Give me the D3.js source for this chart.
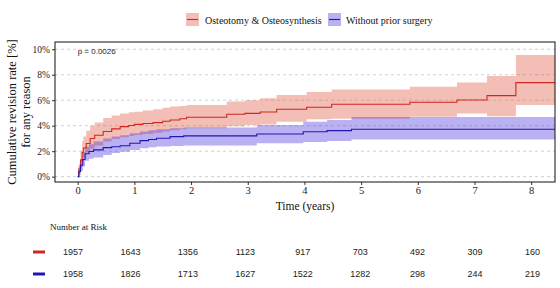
<!DOCTYPE html>
<html><head><meta charset="utf-8">
<script src="https://cdn.jsdelivr.net/npm/d3@7"></script>
<style>body{margin:0;background:#fff}svg{display:block}</style>
</head><body>
<script>
// ---- data ----
const seriesNames = ["Osteotomy & Osteosynthesis", "Without prior surgery"];
const osteoTime  = [0, 0.02, 0.05, 0.08, 0.1, 0.15, 0.22, 0.3, 0.45, 0.6, 0.75, 0.9, 1.0, 1.15, 1.33, 1.5, 1.63, 1.8, 1.92, 2.63, 2.95, 3.22, 3.51, 4.04, 4.48, 5.86, 6.69, 7.22, 7.73];
const osteoEst   = [0, 0.6, 1.3, 1.9, 2.25, 2.6, 3.0, 3.25, 3.55, 3.75, 3.93, 4.02, 4.1, 4.17, 4.24, 4.35, 4.45, 4.55, 4.66, 4.9, 4.97, 5.08, 5.29, 5.45, 5.68, 5.84, 6.02, 6.36, 7.38];
const osteoUpper = [0, 1.0, 2.0, 2.8, 3.15, 3.6, 4.0, 4.25, 4.6, 4.8, 4.95, 5.05, 5.1, 5.2, 5.3, 5.4, 5.5, 5.55, 5.63, 5.9, 6.0, 6.15, 6.4, 6.65, 6.85, 7.05, 7.4, 7.9, 9.55];
const osteoLower = [0, 0.2, 0.7, 1.2, 1.5, 1.9, 2.2, 2.45, 2.75, 2.95, 3.1, 3.2, 3.27, 3.35, 3.45, 3.55, 3.65, 3.72, 3.8, 3.95, 4.05, 4.1, 4.3, 4.5, 4.55, 4.7, 4.95, 4.75, 5.62];

const noSurgTime  = [0, 0.02, 0.05, 0.09, 0.13, 0.2, 0.28, 0.45, 0.6, 0.75, 0.92, 1.1, 1.25, 1.39, 1.63, 1.87, 3.16, 3.98, 4.4, 4.83];
const noSurgEst   = [0, 0.4, 0.9, 1.35, 1.8, 1.98, 2.1, 2.28, 2.35, 2.42, 2.62, 2.83, 2.92, 3.01, 3.14, 3.2, 3.35, 3.53, 3.61, 3.72];
const noSurgUpper = [0, 0.8, 1.4, 1.9, 2.35, 2.55, 2.75, 3.0, 3.15, 3.25, 3.4, 3.55, 3.65, 3.72, 3.8, 3.86, 4.06, 4.3, 4.45, 4.68];
const noSurgLower = [0, 0.1, 0.45, 0.8, 1.25, 1.4, 1.5, 1.7, 1.85, 1.95, 2.1, 2.22, 2.3, 2.36, 2.4, 2.45, 2.62, 2.72, 2.8, 2.92];

const xTicks = [0, 1, 2, 3, 4, 5, 6, 7, 8];
const yTicks = [0, 2, 4, 6, 8, 10];
const riskTimes = [0, 1, 2, 3, 4, 5, 6, 7, 8];
const riskOsteo  = [1957, 1643, 1356, 1123, 917, 703, 492, 309, 160];
const riskNoSurg = [1958, 1826, 1713, 1627, 1522, 1282, 298, 244, 219];
const pValueText = "p = 0.0026";

// ---- layout ----
const W = 560, H = 288;
const L = 55, R = 555, T = 42, B = 182;
const tEnd = 8.45;
const colors = {
  osteo: {line: "#d0281c", fill: "#df4a36"},
  nosurg: {line: "#2414b4", fill: "#3d26d9"}
};
const serif = "'Liberation Serif','DejaVu Serif',serif";
const sans = "'Liberation Sans',Arial,sans-serif";

const x = d3.scaleLinear().domain([-0.4, 8.42]).range([L, R]);
const y = d3.scaleLinear().domain([-0.42, 10.57]).range([B, T]);
const xr = d3.scaleLinear().domain([0, 8]).range([73, 532.5]);

const svg = d3.select("body").append("svg").attr("width", W).attr("height", H);

svg.append("defs").append("clipPath").attr("id", "clip")
  .append("rect").attr("x", L).attr("y", T).attr("width", R - L).attr("height", B - T);

// gridlines
svg.append("g").selectAll("line").data(yTicks).join("line")
  .attr("x1", L).attr("x2", R).attr("y1", d => y(d)).attr("y2", d => y(d))
  .attr("stroke", "#c4c4c4").attr("stroke-width", 0.8).attr("stroke-dasharray", "3,3");

function mk(times, est, lo, hi) {
  const pts = times.map((t, i) => ({t, e: est[i], lo: lo[i], hi: hi[i]}));
  pts.push({t: tEnd, e: est[est.length-1], lo: lo[lo.length-1], hi: hi[hi.length-1]});
  return pts;
}
const dataOsteo = mk(osteoTime, osteoEst, osteoLower, osteoUpper);
const dataNo = mk(noSurgTime, noSurgEst, noSurgLower, noSurgUpper);

const area = d3.area().curve(d3.curveStepAfter).x(d => x(d.t)).y0(d => y(d.lo)).y1(d => y(d.hi));
const line = d3.line().curve(d3.curveStepAfter).x(d => x(d.t)).y(d => y(d.e));

const plot = svg.append("g").attr("clip-path", "url(#clip)");
plot.append("path").datum(dataOsteo).attr("d", area).attr("fill", colors.osteo.fill).attr("fill-opacity", 0.36);
plot.append("path").datum(dataNo).attr("d", area).attr("fill", colors.nosurg.fill).attr("fill-opacity", 0.36);
plot.append("path").datum(dataOsteo).attr("d", line).attr("fill", "none").attr("stroke", colors.osteo.line).attr("stroke-width", 1.1);
plot.append("path").datum(dataNo).attr("d", line).attr("fill", "none").attr("stroke", colors.nosurg.line).attr("stroke-width", 1.1);

// axes
const xAxis = svg.append("g").attr("transform", `translate(0,${B})`)
  .call(d3.axisBottom(x).tickValues(xTicks).tickSize(3).tickPadding(2).tickFormat(d3.format("d")));
const yAxis = svg.append("g").attr("transform", `translate(${L},0)`)
  .call(d3.axisLeft(y).tickValues(yTicks).tickSize(3).tickPadding(2).tickFormat(d => d + "%"));
[xAxis, yAxis].forEach(g => {
  g.select(".domain").remove();
  g.selectAll(".tick line").attr("stroke", "#333");
  g.selectAll("text").attr("font-family", serif).attr("fill", "#222");
});
xAxis.selectAll("text").attr("font-size", 10.5);
yAxis.selectAll("text").attr("font-size", 9.5);

svg.append("rect").attr("x", L).attr("y", T).attr("width", R - L).attr("height", B - T)
  .attr("fill", "none").attr("stroke", "#111").attr("stroke-width", 1);

// p value
svg.append("text").attr("x", x(0)).attr("y", 53.5).attr("font-family", sans).attr("font-size", 8)
  .attr("fill", "#222").text(pValueText);

// axis titles
svg.append("text").attr("x", 305).attr("y", 210).attr("text-anchor", "middle")
  .attr("font-family", serif).attr("font-size", 11.5).attr("fill", "#111").text("Time (years)");
const yt = svg.append("text").attr("transform", `translate(16,${(T + B) / 2}) rotate(-90)`)
  .attr("text-anchor", "middle").attr("font-family", serif).attr("font-size", 12.5).attr("fill", "#111");
yt.append("tspan").attr("x", 0).attr("dy", 0).text("Cumulative revision rate [%]");
yt.append("tspan").attr("x", 0).attr("dy", 13.5).text("for any reason");

// legend
const legend = [
  {name: seriesNames[0], c: colors.osteo, sx: 186, tx: 205},
  {name: seriesNames[1], c: colors.nosurg, sx: 328, tx: 346}
];
legend.forEach(l => {
  svg.append("rect").attr("x", l.sx).attr("y", 13).attr("width", 13).attr("height", 13)
    .attr("fill", l.c.fill).attr("fill-opacity", 0.36);
  svg.append("line").attr("x1", l.sx + 1).attr("x2", l.sx + 12).attr("y1", 19.5).attr("y2", 19.5)
    .attr("stroke", l.c.line).attr("stroke-width", 1.1);
  svg.append("text").attr("x", l.tx).attr("y", 23.5).attr("font-family", serif).attr("font-size", 10)
    .attr("fill", "#111").text(l.name);
});

// risk table
svg.append("text").attr("x", 50).attr("y", 230).attr("font-family", serif).attr("font-size", 9)
  .attr("fill", "#111").text("Number at Risk");
const rows = [{vals: riskOsteo, c: colors.osteo.line, yy: 252}, {vals: riskNoSurg, c: colors.nosurg.line, yy: 274}];
rows.forEach(r => {
  svg.append("line").attr("x1", 33).attr("x2", 45).attr("y1", r.yy).attr("y2", r.yy)
    .attr("stroke", r.c).attr("stroke-width", 3);
  svg.append("g").selectAll("text").data(riskTimes).join("text")
    .attr("x", d => xr(d)).attr("y", r.yy + 3.2).attr("text-anchor", "middle")
    .attr("font-family", sans).attr("font-size", 9).attr("fill", "#222")
    .text((d, i) => r.vals[i]);
});
</script>
</body></html>
